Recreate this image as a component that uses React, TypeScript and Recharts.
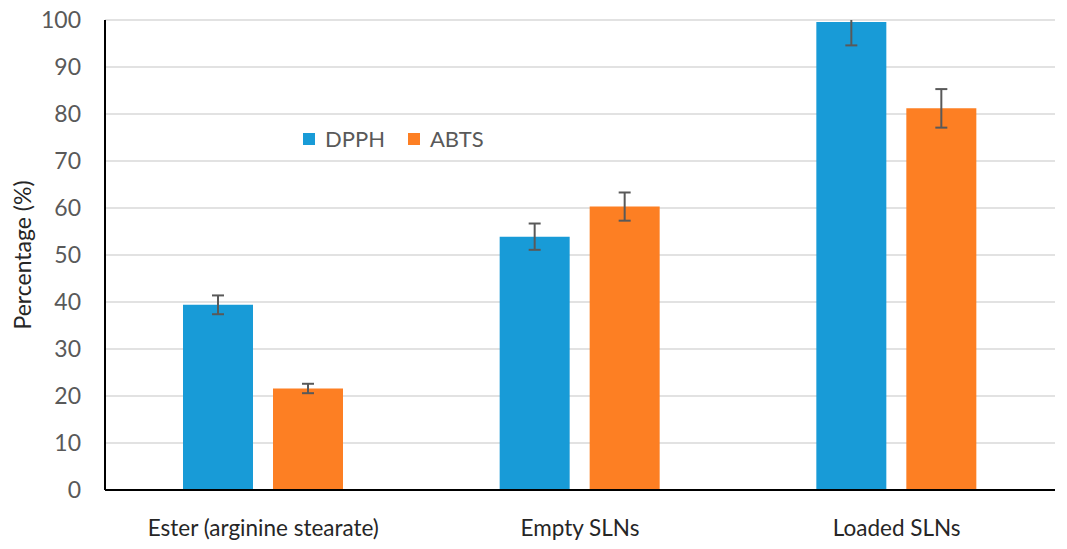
import React from 'react';
import { BarChart, Bar, XAxis, YAxis, CartesianGrid, Legend, ErrorBar } from 'recharts';

const categories = ['Ester (arginine stearate)', 'Empty SLNs', 'Loaded SLNs'];
const dpph = [39.4, 53.9, 99.6];
const dpphErr = [2.0, 2.8, 5.0];
const abts = [21.6, 60.3, 81.2];
const abtsErr = [1.0, 3.0, 4.1];
const yTicks = [0, 10, 20, 30, 40, 50, 60, 70, 80, 90, 100];

const BLUE = '#189bd7';
const ORANGE = '#fd7f23';
const FONT = 'Lato, "Open Sans", sans-serif';

const CHART_W = 1059;
const CHART_H = 541;
const MARGIN = { top: 20, right: 12, left: 0, bottom: 0 };
const Y_AXIS_W = 97;
const X_AXIS_H = 51;

const data = categories.map((c, i) => ({
  name: c,
  DPPH: dpph[i],
  dpphErr: dpphErr[i],
  ABTS: abts[i],
  abtsErr: abtsErr[i],
}));

const YLabel = (props: any) => {
  const vb = props.viewBox || {};
  const cx = 14;
  const cy = vb.y + vb.height / 2;
  return (
    <text
      x={cx}
      y={cy}
      transform={`rotate(-90 ${cx} ${cy})`}
      textAnchor="middle"
      dominantBaseline="central"
      fill="#262626"
      fontSize={23}
      fontFamily={FONT}
    >
      Percentage (%)
    </text>
  );
};

const LegendContent = () => (
  <div style={{ display: 'flex', alignItems: 'center', fontFamily: FONT, fontSize: 22, color: '#595959' }}>
    <span style={{ display: 'inline-block', width: 12, height: 12, background: BLUE, marginRight: 10 }} />
    <span style={{ marginRight: 23 }}>DPPH</span>
    <span style={{ display: 'inline-block', width: 12, height: 12, background: ORANGE, marginRight: 10 }} />
    <span>ABTS</span>
  </div>
);

const plotX = MARGIN.left + Y_AXIS_W;
const plotY = MARGIN.top;
const plotW = CHART_W - plotX - MARGIN.right;
const plotH = CHART_H - MARGIN.top - MARGIN.bottom - X_AXIS_H;

export default function App() {
  return (
    <div style={{ marginTop: -8 }}>
      <svg width={0} height={0} style={{ position: 'absolute' }}>
        <defs>
          <clipPath id="plotAreaClip" clipPathUnits="userSpaceOnUse">
            <rect x={plotX - 20} y={plotY} width={plotW + 40} height={plotH} />
          </clipPath>
        </defs>
      </svg>
      <style>{`.recharts-errorBars { clip-path: url(#plotAreaClip); } .recharts-surface { overflow: visible; }`}</style>
      <BarChart
        width={CHART_W}
        height={CHART_H}
        data={data}
        margin={MARGIN}
        barSize={70}
        barGap={20}
      >
        <CartesianGrid vertical={false} stroke="#d9d9d9" strokeWidth={1.5} />
        <XAxis
          dataKey="name"
          height={X_AXIS_H}
          tickLine={false}
          tickSize={0}
          tickMargin={30}
          axisLine={{ stroke: '#000', strokeWidth: 2 }}
          tick={{ fill: '#262626', fontSize: 22.5, fontFamily: FONT }}
          interval={0}
        />
        <YAxis
          width={Y_AXIS_W}
          domain={[0, 100]}
          ticks={yTicks}
          allowDataOverflow
          tickLine={false}
          tickSize={0}
          tickMargin={24}
          axisLine={{ stroke: '#000', strokeWidth: 2 }}
          tick={{ fill: '#595959', fontSize: 23, fontFamily: FONT }}
          label={<YLabel />}
        />
        <Legend
          layout="horizontal"
          verticalAlign="middle"
          align="center"
          content={<LegendContent />}
          wrapperStyle={{ top: 125, left: 295, width: 'auto' }}
        />
        <Bar dataKey="DPPH" fill={BLUE} isAnimationActive={false}>
          <ErrorBar dataKey="dpphErr" stroke="#595959" strokeWidth={2} width={6} />
        </Bar>
        <Bar dataKey="ABTS" fill={ORANGE} isAnimationActive={false}>
          <ErrorBar dataKey="abtsErr" stroke="#595959" strokeWidth={2} width={6} />
        </Bar>
      </BarChart>
    </div>
  );
}
